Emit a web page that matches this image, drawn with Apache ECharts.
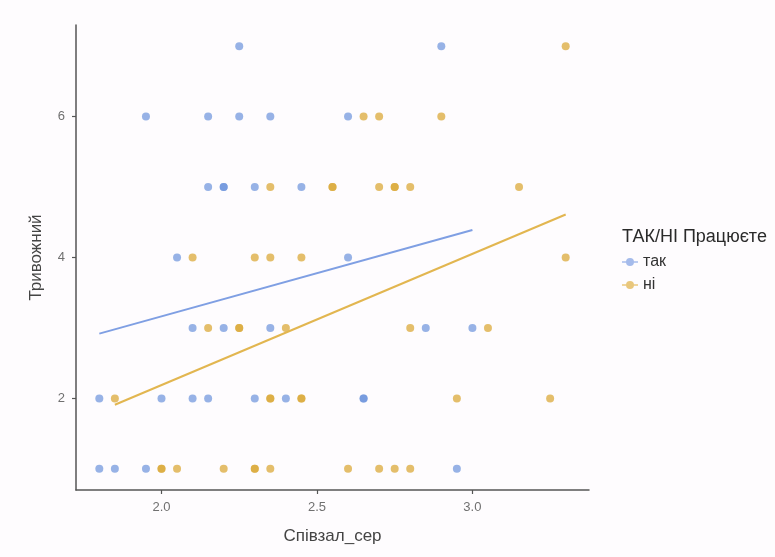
<!DOCTYPE html>
<html>
<head>
<meta charset="utf-8">
<script src="https://cdn.jsdelivr.net/npm/echarts@6/dist/echarts.min.js"></script>
<style>
html,body{margin:0;padding:0;background:#fefcfe;}
#chart{width:775px;height:557px;}
</style>
</head>
<body>
<div id="chart"></div>
<script>
// ---- data ----
const seriesNames = ['так', 'ні'];
const legendTitle = 'ТАК/НІ Працюєте';
const xName = 'Співзал_сер';
const yName = 'Тривожний';
const xTicks = [2.0, 2.5, 3.0];
const yTicks = [2, 4, 6];

const takX = [2.25, 2.90,
  1.95, 2.15, 2.25, 2.35, 2.60,
  2.15, 2.20, 2.20, 2.30, 2.45,
  2.05, 2.60,
  2.10, 2.20, 2.35, 2.85, 3.00,
  1.80, 2.00, 2.10, 2.15, 2.30, 2.40, 2.65, 2.65,
  1.80, 1.85, 1.95, 2.95];
const takY = [7, 7,
  6, 6, 6, 6, 6,
  5, 5, 5, 5, 5,
  4, 4,
  3, 3, 3, 3, 3,
  2, 2, 2, 2, 2, 2, 2, 2,
  1, 1, 1, 1];

const niX = [3.30,
  2.65, 2.70, 2.90,
  2.35, 2.55, 2.55, 2.70, 2.75, 2.75, 2.80, 3.15,
  2.10, 2.30, 2.35, 2.45, 3.30,
  2.15, 2.25, 2.25, 2.40, 2.80, 3.05,
  1.85, 2.35, 2.35, 2.45, 2.45, 2.95, 3.25,
  2.00, 2.00, 2.05, 2.20, 2.30, 2.30, 2.35, 2.60, 2.70, 2.75, 2.80];
const niY = [7,
  6, 6, 6,
  5, 5, 5, 5, 5, 5, 5, 5,
  4, 4, 4, 4, 4,
  3, 3, 3, 3, 3, 3,
  2, 2, 2, 2, 2, 2, 2,
  1, 1, 1, 1, 1, 1, 1, 1, 1, 1, 1];

// fitted regression line end points
const takLineX = [1.80, 3.00];
const takLineY = [2.92, 4.39];
const niLineX = [1.85, 3.30];
const niLineY = [1.91, 4.61];

// ---- chart ----
const pair = (xs, ys) => xs.map((x, i) => [x, ys[i]]);
const blue = '#6b93dc', gold = '#dba93a';
const blueLine = '#7f9fe3', goldLine = '#e2b650';
const keyIcon = 'path://M0,4.2 L20,4.2 L20,5.8 L0,5.8 Z M10,0 A5,5 0 1,1 10,10 A5,5 0 1,1 10,0 Z';
const FONT = '"Liberation Sans", Arial, sans-serif';

const chart = echarts.init(document.getElementById('chart'), null, {renderer: 'canvas'});
chart.setOption({
  backgroundColor: '#fefcfe',
  animation: false,
  textStyle: {fontFamily: FONT},
  title: {
    text: legendTitle, left: 617, top: 223,
    textStyle: {fontSize: 18, fontWeight: 'normal', color: '#2a2a2a', fontFamily: FONT}
  },
  legend: {
    orient: 'vertical', left: 617, top: 249, itemGap: 7,
    itemWidth: 16, itemHeight: 8,
    data: [
      {name: seriesNames[0], icon: keyIcon, itemStyle: {color: blueLine}},
      {name: seriesNames[1], icon: keyIcon, itemStyle: {color: goldLine}}
    ],
    textStyle: {fontSize: 16, color: '#333', fontFamily: FONT}
  },
  grid: {left: 76, top: 25, right: 186, bottom: 67, containLabel: false},
  xAxis: {
    type: 'value', min: 1.725, max: 3.375,
    name: xName, nameLocation: 'middle', nameGap: 38,
    nameTextStyle: {fontSize: 17, color: '#444', fontFamily: FONT},
    axisLine: {show: true, lineStyle: {color: '#555', width: 1.5}},
    axisTick: {show: true, length: 4, customValues: xTicks, lineStyle: {color: '#555', width: 1.2}},
    axisLabel: {customValues: xTicks, formatter: v => v.toFixed(1), fontSize: 13, color: '#707070', margin: 11, fontFamily: FONT},
    splitLine: {show: false}
  },
  yAxis: {
    type: 'value', min: 0.7, max: 7.3,
    name: yName, nameLocation: 'middle', nameGap: 31, nameRotate: 90,
    nameTextStyle: {fontSize: 17, color: '#444', fontFamily: FONT},
    axisLine: {show: true, lineStyle: {color: '#555', width: 1.5}},
    axisTick: {show: true, length: 4, customValues: yTicks, lineStyle: {color: '#555', width: 1.2}},
    axisLabel: {customValues: yTicks, fontSize: 13, color: '#707070', margin: 11, fontFamily: FONT},
    splitLine: {show: false}
  },
  series: [
    {name: seriesNames[0], type: 'scatter', symbolSize: 8, data: pair(takX, takY),
     itemStyle: {color: blue, opacity: 0.7}, z: 2},
    {name: seriesNames[1], type: 'scatter', symbolSize: 8, data: pair(niX, niY),
     itemStyle: {color: gold, opacity: 0.75}, z: 3},
    {name: seriesNames[0], type: 'line', data: pair(takLineX, takLineY), showSymbol: false, symbol: 'none',
     lineStyle: {color: blueLine, width: 2}, itemStyle: {color: blueLine}, z: 4},
    {name: seriesNames[1], type: 'line', data: pair(niLineX, niLineY), showSymbol: false, symbol: 'none',
     lineStyle: {color: goldLine, width: 2}, itemStyle: {color: goldLine}, z: 4}
  ]
});
</script>
</body>
</html>
